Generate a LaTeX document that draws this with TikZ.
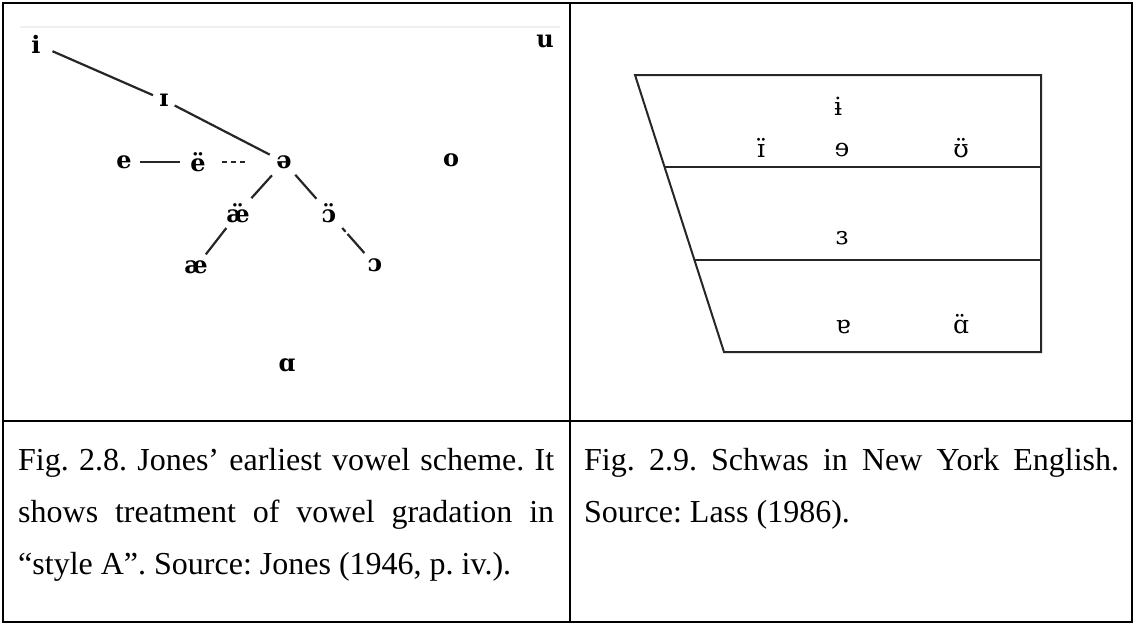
\documentclass[tikz,border=0pt]{standalone}
\usepackage{fontspec}
\setmainfont{Liberation Serif}
\newfontfamily\ipafont{DejaVu Serif}
\usetikzlibrary{calc}
\begin{document}
\begin{tikzpicture}[x=1pt,y=-1pt,
  vl/.style={font=\fontsize{24}{24}\selectfont\ipafont\bfseries, inner sep=0pt},
  vr/.style={font=\fontsize{25}{25}\selectfont\ipafont, inner sep=0pt},
  link/.style={line width=2.2pt, black!85},
  tblline/.style={line width=2.8pt},
  chart/.style={line width=2pt, black!85},
  captext/.style={font=\fontsize{32}{38}\selectfont\frenchspacing, anchor=base west, inner sep=0pt}]
\useasboundingbox (0,0) rectangle (1135,625);
% table
\draw[tblline] (3,3) rectangle (1132,622);
\draw[tblline] (570,3) -- (570,622);
\draw[tblline] (3,421) -- (1132,421);
% faint scan edge
\draw[gray!12, line width=1.5pt] (20,27) -- (560,27);
% left diagram
\node[vl] (i) at (36,44) {i};
\node[vl] (u) at (545,41) {u};
\node[vl] (I) at (164,100) {ɪ};
\node[vl] (schwa) at (284,162) {ə};
\node[vl] (e) at (124,162) {e};
\node[vl] (ee) at (198,162) {ë};
\node[vl] (o) at (451,160) {o};
\node[vl] (aee) at (238,213) {æ̈};
\node[vl] (oo) at (329,213) {ɔ̈};
\node[vl] (ae) at (196,267) {æ};
\node[vl] (open) at (375,265) {ɔ};
\node[vl] (a) at (287,365) {ɑ};
\draw[link, shorten <=18pt, shorten >=12pt] (i.center) -- (I.center);
\draw[link, shorten <=12pt, shorten >=16pt] (I.center) -- (schwa.center);
\draw[link, shorten <=16pt, shorten >=18pt] (e.center) -- (ee.center);
\draw[link, line width=1.5pt, dash pattern=on 5pt off 4pt, shorten <=24pt, shorten >=37pt] (ee.center) -- (schwa.center);
\draw[link, shorten <=18pt, shorten >=20pt] (schwa.center) -- (aee.center);
\draw[link, shorten <=17pt, shorten >=19pt] (schwa.center) -- (oo.center);
\draw[link, shorten <=19pt, shorten >=16pt] (aee.center) -- (ae.center);
\draw[link, dash pattern=on 5pt off 3pt on 40pt off 0pt, shorten <=20pt, shorten >=16pt] (oo.center) -- (open.center);
% right diagram
\coordinate (TL) at (635,75);
\coordinate (TR) at (1041,75);
\coordinate (BR) at (1041,352);
\coordinate (BL) at (724,352);
\path (TL) -- (BL) coordinate[pos=1/3] (L1) coordinate[pos=2/3] (L2);
\draw[chart] (TL) -- (TR) -- (BR) -- (BL) -- cycle;
\draw[chart] (L1) -- (L1 -| TR);
\draw[chart] (L2) -- (L2 -| TR);
\node[vr] (r1) at (838,106) {ɨ};
\node[vr] (r2) at (761,148) {ɪ̈};
\node[vr] (r3) at (842,150) {ɘ};
\node[vr] (r4) at (961,148) {ʊ̈};
\node[vr] (r5) at (842,238) {ɜ};
\node[vr] (r6) at (843,327) {ɐ};
\node[vr] (r7) at (961,324) {ɑ̈};
% captions
\node[captext] (c1) at (18,470) {\makebox[536pt][s]{Fig. 2.8. Jones’ earliest vowel scheme. It}};
\node[captext] (c2) at (18,522) {\makebox[536pt][s]{shows treatment of vowel gradation in}};
\node[captext] (c3) at (18,574) {“style A”. Source: Jones (1946, p. iv.).};
\node[captext] (d1) at (584,470) {\makebox[535pt][s]{Fig. 2.9. Schwas in New York English.}};
\node[captext] (d2) at (584,522) {Source: Lass (1986).};
\end{tikzpicture}
\end{document}
